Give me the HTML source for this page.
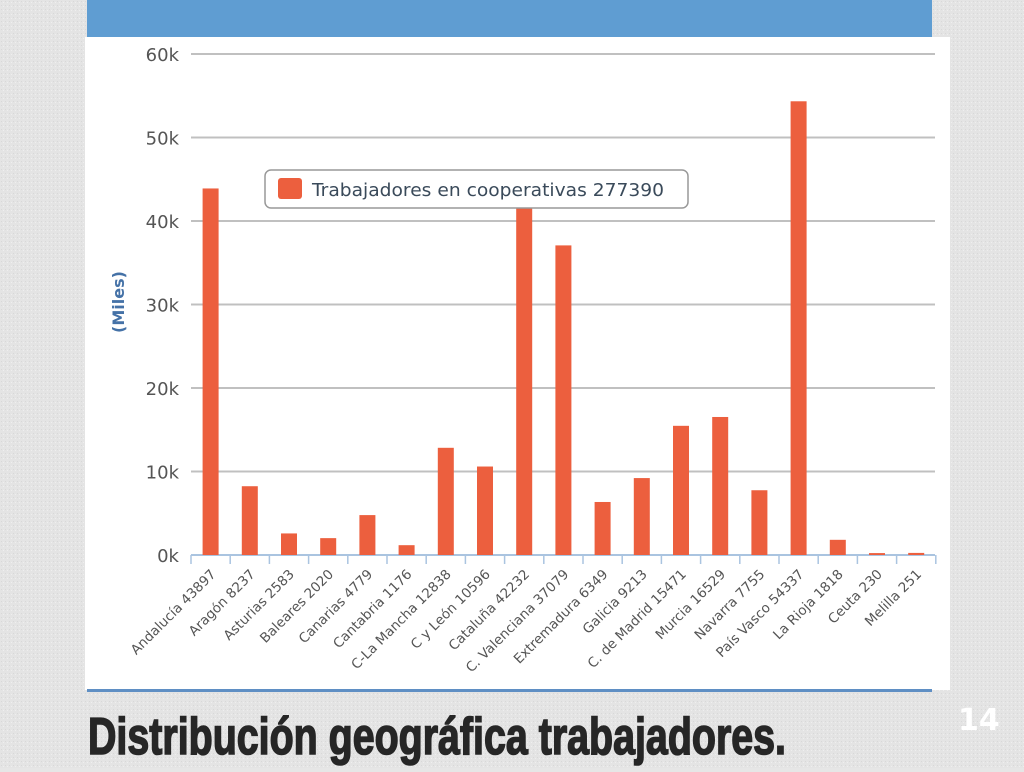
<!DOCTYPE html>
<html><head><meta charset="utf-8"><style>
body{margin:0;width:1024px;height:768px;overflow:hidden;background:#e6e6e6;font-family:"DejaVu Sans","Liberation Sans",sans-serif}
</style></head><body>
<svg width="1024" height="768" xmlns="http://www.w3.org/2000/svg" id="svg">
<defs><pattern id="tex" width="4" height="4" patternUnits="userSpaceOnUse"><rect width="4" height="4" fill="#e4e4e4"/><rect x="1" y="1" width="1" height="1" fill="#d8d8d8"/><rect x="3" y="2" width="1" height="1" fill="#efefef"/></pattern></defs>
<rect width="1024" height="768" fill="url(#tex)"/>
<rect x="87" y="0" width="845" height="37" fill="#5f9dd2"/>
<rect x="85" y="37" width="865" height="653" fill="#fff"/>
<rect x="87" y="689" width="845" height="3" fill="#5f8fc4"/>
<g id="grid"></g>
<g id="bars"></g>
<g id="xlabels"></g>
<text x="124" y="302" transform="rotate(-90 124 302)" text-anchor="middle" font-size="16" font-weight="bold" fill="#4572a7">(Miles)</text>
<g>
<rect x="265" y="170" width="423" height="38" rx="6" fill="#fff" stroke="#999" stroke-width="1.5"/>
<rect x="278" y="178" width="24" height="21" rx="3" fill="#ec5f3e"/>
<text x="312" y="196" font-size="17.5" fill="#3a4a5a" textLength="352" lengthAdjust="spacingAndGlyphs">Trabajadores en cooperativas 277390</text>
</g>
<text x="88" y="754" font-family="Liberation Sans, sans-serif" font-size="52" font-weight="bold" fill="#262626" stroke="#262626" stroke-width="1.6" textLength="698" lengthAdjust="spacingAndGlyphs">Distribución geográfica trabajadores.</text>
<text x="958" y="730" font-size="30" font-weight="bold" fill="#fff">14</text>
</svg>
<script>
const categories=["Andalucía","Aragón","Asturias","Baleares","Canarias","Cantabria","C-La Mancha","C y León","Cataluña","C. Valenciana","Extremadura","Galicia","C. de Madrid","Murcia","Navarra","País Vasco","La Rioja","Ceuta","Melilla"];
const values=[43897,8237,2583,2020,4779,1176,12838,10596,42232,37079,6349,9213,15471,16529,7755,54337,1818,230,251];
const yTicks=[0,10000,20000,30000,40000,50000,60000];
const yTickLabels=["0k","10k","20k","30k","40k","50k","60k"];
const NS="http://www.w3.org/2000/svg";
const x0=191,cw=39.2,y0=555,ymax=60000,yTop=54;
const y=v=>y0-(v/ymax)*(y0-yTop);
const xc=i=>x0+cw*(i+0.5);
function mk(t,a,p){const e=document.createElementNS(NS,t);for(const k in a)e.setAttribute(k,a[k]);p.appendChild(e);return e;}
const grid=document.getElementById('grid'),bars=document.getElementById('bars'),xl=document.getElementById('xlabels');
yTicks.forEach((t,i)=>{
 const l=mk('line',{x1:x0,x2:935,y1:y(t),y2:y(t),stroke:t===0?'#aac4e0':'#c0c0c0','stroke-width':2},grid);
 
 
 const tx=mk('text',{x:179,y:y(t)+7,'text-anchor':'end','font-size':18,fill:'#555'},grid);
 tx.textContent=yTickLabels[i];
 
 
});
for(let i=0;i<=categories.length;i++){
 const tk=mk('line',{x1:x0+cw*i,x2:x0+cw*i,y1:y0,y2:y0+9,stroke:'#aac4e0','stroke-width':1.5},grid);
 
 
}
categories.forEach((c,i)=>{
 const b=mk('rect',{x:xc(i)-8,y:y(values[i]),width:16,height:y0-y(values[i]),fill:'#ec5f3e'},bars);
 
 
 const X=xc(i)+6,Y=y0+20;
 const t=mk('text',{x:X,y:Y,'text-anchor':'end','font-size':13.5,fill:'#555',transform:`rotate(-45 ${X} ${Y})`},xl);
 t.textContent=c+' '+values[i];
 
 
});
</script>
</body></html>
